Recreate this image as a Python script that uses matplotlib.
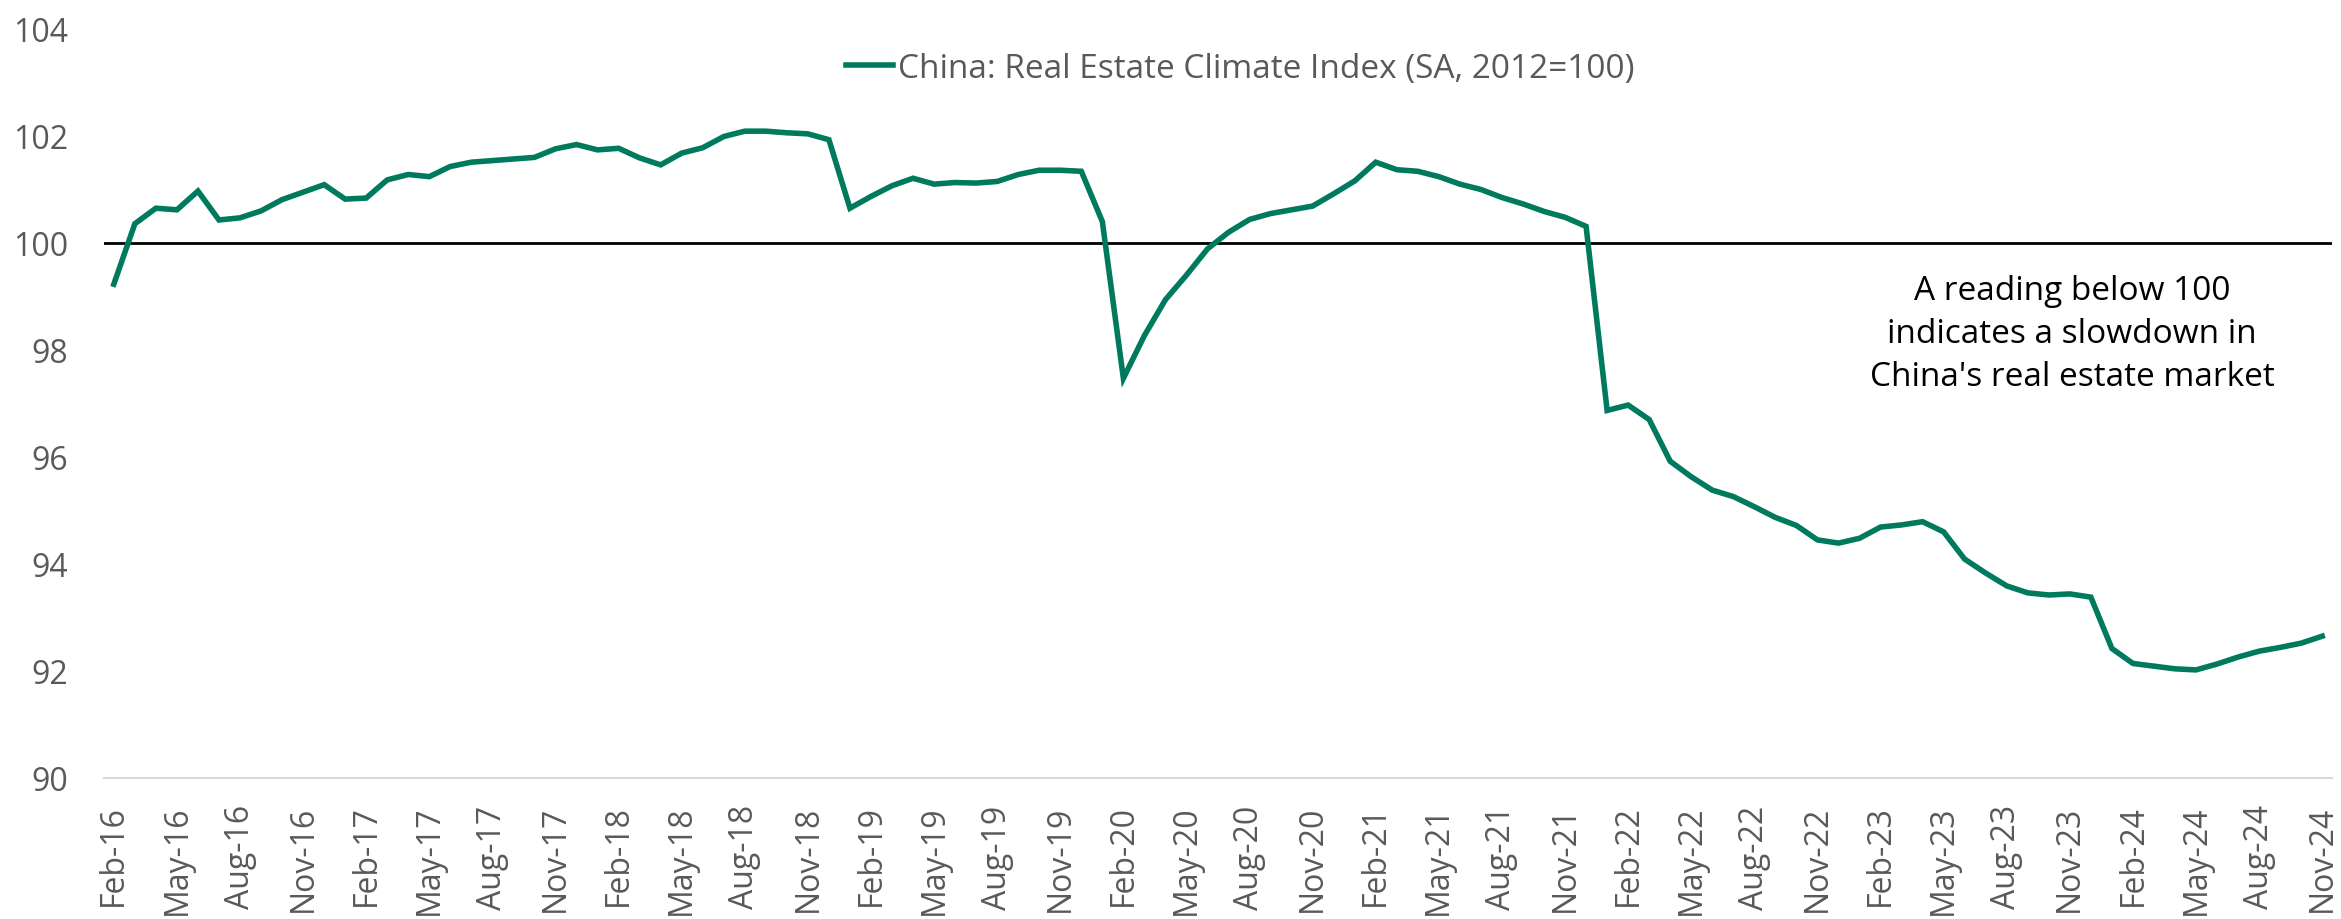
"""
China real estate climate index, monthly, Feb-16 to Nov-24.
"""

import numpy as np
import pandas as pd
import matplotlib

matplotlib.use("Agg")
import matplotlib.pyplot as plt


# =============================================================================
# Data
# =============================================================================
START_MONTH = "2016-02"

climate_index = [
    99.23, 100.36, 100.65, 100.62, 100.97, 100.43, 100.47, 100.60, 100.81, 100.95,
    101.09, 100.82, 100.84, 101.18, 101.28, 101.24, 101.43, 101.51, 101.54, 101.57,
    101.60, 101.76, 101.84, 101.74, 101.77, 101.59, 101.46, 101.68, 101.78, 101.99,
    102.09, 102.09, 102.06, 102.04, 101.93, 100.65, 100.87, 101.07, 101.21, 101.10,
    101.13, 101.12, 101.15, 101.28, 101.36, 101.36, 101.34, 100.40, 97.47, 98.27,
    98.94, 99.40, 99.89, 100.20, 100.44, 100.55, 100.62, 100.69, 100.92, 101.16,
    101.51, 101.37, 101.34, 101.24, 101.10, 101.00, 100.85, 100.73, 100.59, 100.48,
    100.31, 96.87, 96.97, 96.70, 95.92, 95.63, 95.38, 95.26, 95.07, 94.87,
    94.72, 94.45, 94.39, 94.48, 94.69, 94.73, 94.79, 94.60, 94.09, 93.83,
    93.59, 93.46, 93.42, 93.44, 93.38, 92.42, 92.14, 92.09, 92.04, 92.02,
    92.13, 92.26, 92.37, 92.44, 92.52, 92.65,
]

series_label = "China: Real Estate Climate Index (SA, 2012=100)"
note_text = "A reading below 100\nindicates a slowdown in\nChina's real estate market"
y_ticks = [90, 92, 94, 96, 98, 100, 102, 104]
threshold = 100


# =============================================================================
# Plot
# =============================================================================
def main() -> None:
    plt.rcParams["font.family"] = ["Open Sans", "DejaVu Sans"]

    line_color = "#007A5E"
    tick_color = "#595959"

    months = pd.date_range(START_MONTH, periods=len(climate_index), freq="MS")
    month_labels = months.strftime("%b-%y")
    x_pos = np.arange(len(climate_index))

    fig = plt.figure(figsize=(23.41, 9.2), dpi=100)
    ax = fig.add_axes([0.0444, 0.1533, 0.9518, 0.8141])

    ax.axhline(threshold, color="black", linewidth=2.0, zorder=2)

    ax.plot(
        x_pos,
        climate_index,
        color=line_color,
        linewidth=4.0,
        solid_joinstyle="miter",
        label=series_label,
        zorder=3,
    )

    ax.set_xlim(-0.47, len(climate_index) - 1 + 0.47)
    ax.set_ylim(90, 104)

    ax.set_yticks(y_ticks)
    ax.set_yticklabels([str(v) for v in y_ticks])
    ax.set_xticks(x_pos[::3])
    ax.set_xticklabels(month_labels[::3], rotation=90)

    ax.tick_params(axis="y", length=0, pad=26, labelsize=23, labelcolor=tick_color)
    ax.tick_params(axis="x", length=0, pad=19, labelsize=23, labelcolor=tick_color)

    for side in ["top", "right", "left"]:
        ax.spines[side].set_visible(False)
    ax.spines["bottom"].set_color("#D9D9D9")
    ax.spines["bottom"].set_linewidth(1.5)

    ax.legend(
        loc="upper center",
        bbox_to_anchor=(0.51, 1.01),
        frameon=False,
        fontsize=24,
        handlelength=1.4,
        handletextpad=0.15,
        labelcolor=tick_color,
    )

    ax.text(
        93.1,
        98.3,
        note_text,
        ha="center",
        va="center",
        fontsize=24,
        color="black",
        linespacing=1.4,
    )

    fig.savefig("out.png", dpi=100)
    plt.close(fig)


if __name__ == "__main__":
    main()
